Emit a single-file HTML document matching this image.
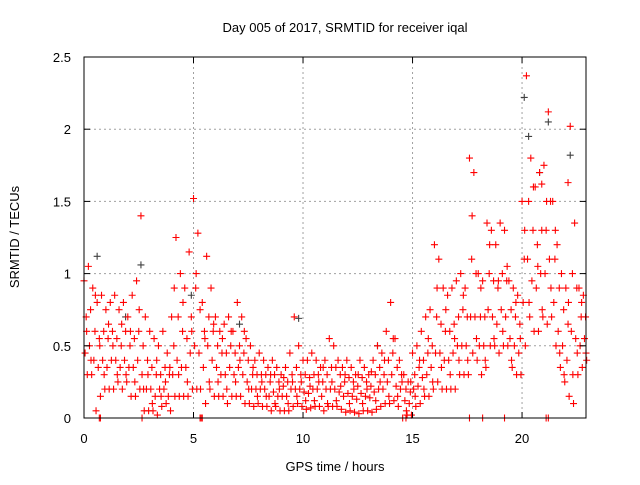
<!DOCTYPE html>
<html><head><meta charset="utf-8"><style>
body{margin:0;background:#fff}
svg text{font-family:"Liberation Sans",sans-serif;font-size:13px;fill:#000}
</style></head><body>
<svg id="chart" width="640" height="480" viewBox="0 0 640 480" xmlns="http://www.w3.org/2000/svg">
<rect width="640" height="480" fill="#fff"/>
<g id="grid"></g>
<g id="gray"></g>
<g id="red"></g>
<g id="axes"></g>
<text x="345" y="32" text-anchor="middle">Day 005 of 2017, SRMTID for receiver iqal</text>
<text x="335" y="471" text-anchor="middle">GPS time / hours</text>
<text transform="translate(19,237) rotate(-90)" text-anchor="middle">SRMTID / TECUs</text>
</svg>
<script>
const xTicks=[0,5,10,15,20];
const yTicks=[0,0.5,1,1.5,2,2.5];
const yTickLabels=["0","0.5","1","1.5","2","2.5"];
const redHi=[0.95,1.05,0.9,0.8,0.85,0.75,0.8,0.85,0.75,0.8,0.7,0.85,0.95,1.4,0.7,0.6,0.55,0.5,0.6,0.45,0.7,1.25,1.0,0.9,1.15,1.52,1.28,0.8,1.12,0.9,0.7,0.6,0.65,0.7,0.6,0.8,0.7,0.55,0.5,0.4,0.45,0.4,0.35,0.4,0.35,0.3,0.35,0.45,0.7,0.5,0.4,0.4,0.45,0.4,0.35,0.4,0.55,0.5,0.4,0.35,0.4,0.35,0.3,0.4,0.35,0.3,0.4,0.5,0.45,0.6,0.8,0.55,0.4,0.3,0.25,0.45,0.5,0.6,0.7,0.75,1.2,1.1,0.9,0.85,0.9,0.95,1.0,0.9,1.8,1.7,1.0,0.95,1.35,1.3,1.2,1.35,1.3,0.95,0.9,0.85,1.5,2.37,1.8,1.6,1.7,1.75,2.12,1.5,1.2,1.0,0.9,2.02,1.35,0.9,0.85];
const redMid1=[0.7,0.75,0.6,0.55,0.6,0.55,0.6,0.55,0.5,0.6,0.5,0.55,0.6,0.5,0.4,0.35,0.3,0.3,0.35,0.3,0.5,0.7,0.6,0.55,0.7,0.9,0.75,0.6,0.7,0.6,0.5,0.45,0.45,0.5,0.45,0.5,0.45,0.4,0.3,0.3,0.3,0.3,0.25,0.3,0.25,0.22,0.25,0.3,0.35,0.3,0.3,0.28,0.3,0.3,0.25,0.3,0.35,0.35,0.3,0.25,0.28,0.25,0.22,0.28,0.25,0.22,0.3,0.35,0.3,0.4,0.45,0.35,0.3,0.2,0.18,0.3,0.35,0.4,0.45,0.5,0.7,0.65,0.6,0.6,0.65,0.7,0.75,0.7,1.1,1.0,0.7,0.7,1.0,0.95,0.9,1.0,0.95,0.75,0.7,0.65,1.1,1.5,1.3,1.2,1.3,1.3,1.5,1.1,0.9,0.75,0.65,1.0,0.9,0.7,0.7];
const redMid2=[0.45,0.5,0.4,0.35,0.4,0.35,0.4,0.4,0.35,0.4,0.35,0.35,0.4,0.3,0.2,0.2,0.15,0.2,0.2,0.15,0.3,0.4,0.35,0.35,0.45,0.5,0.45,0.35,0.5,0.4,0.35,0.3,0.3,0.35,0.3,0.35,0.3,0.25,0.2,0.2,0.2,0.2,0.15,0.18,0.15,0.15,0.15,0.2,0.2,0.2,0.18,0.17,0.2,0.2,0.15,0.2,0.2,0.2,0.18,0.15,0.17,0.15,0.13,0.17,0.15,0.14,0.18,0.2,0.2,0.25,0.3,0.22,0.2,0.12,0.1,0.2,0.22,0.28,0.3,0.35,0.45,0.45,0.4,0.4,0.45,0.5,0.5,0.5,0.7,0.7,0.5,0.5,0.75,0.7,0.65,0.75,0.7,0.55,0.5,0.45,0.8,1.1,0.95,0.9,1.0,1.0,1.1,0.8,0.6,0.5,0.4,0.6,0.55,0.5,0.55];
const redLo=[0.3,0.3,0.05,0.15,0.2,0.2,0.2,0.25,0.2,0.25,0.15,0.15,0.2,0.05,0.05,0.05,0.02,0.08,0.1,0.05,0.15,0.15,0.15,0.15,0.2,0.2,0.0,0.1,0.2,0.15,0.15,0.15,0.1,0.15,0.15,0.15,0.1,0.1,0.08,0.1,0.08,0.08,0.05,0.08,0.05,0.05,0.05,0.08,0.1,0.08,0.06,0.07,0.08,0.08,0.05,0.08,0.08,0.08,0.06,0.04,0.05,0.04,0.03,0.05,0.05,0.04,0.06,0.08,0.1,0.1,0.12,0.08,0.0,0.02,0.02,0.08,0.1,0.15,0.15,0.2,0.25,0.2,0.2,0.2,0.2,0.3,0.3,0.3,0.45,0.4,0.3,0.35,0.5,0.5,0.45,0.5,0.5,0.35,0.3,0.3,0.5,0.7,0.6,0.6,0.7,0.65,0.7,0.5,0.35,0.25,0.15,0.1,0.3,0.35,0.4];
const redX=[0.6,0.4,0.85,0.5,0.3,0.65,0.5,0.3,0.65,0.3,0.6,0.25,0.75,0.2,0.3,0.1,0.4,0.15,0.25,0.35,0.9,0.3,0.8,0.25,0.6,1.0,0.2,0.55,0.25,0.65,0.25,0.55,0.2,0.6,0.25,0.4,0.6,0.2,0.35,0.15,0.25,0.15,0.3,0.1,0.2,0.28,0.1,0.25,0.15,0.25,0.12,0.22,0.12,0.25,0.35,0.1,0.25,0.12,0.22,0.3,0.1,0.2,0.3,0.1,0.2,0.32,0.12,0.25,0.4,0.15,0.55,0.15,0.25,0.05,0.25,0.15,0.4,0.2,0.55,0.25,0.9,0.35,0.75,0.3,0.55,0.4,0.85,0.4,1.4,0.55,0.9,0.4,1.2,0.55,0.95,0.6,1.05,0.4,0.8,0.55,1.3,0.8,1.6,1.05,0.75,1.5,0.9,1.3,0.45,0.3,0.8,0.3,0.45,0.8,0.45];
const extraT=[0.7,0.75,2.65,5.3,5.4,14.7,17.6,18.2,19.2,21.1,21.2,20.9,22.1];
const extraV=[0,0,0,0,0,0,0,0,0,0,0,1.62,1.63];
const grayT=[0.6,2.6,9.8,20.1,20.3,20.8,21.2,22.2,13.4,7.1,4.9,1.9];
const grayV=[1.12,1.06,0.69,2.22,1.95,1.7,2.05,1.82,0.5,0.65,0.85,0.7];
const X0=84,X1=586,Y0=418,Y1=57,XMAX=22.92,YMAX=2.5,STEP=0.2;
const sx=v=>X0+v/XMAX*(X1-X0);
const sy=v=>Y0-v/YMAX*(Y0-Y1);
const NS="http://www.w3.org/2000/svg";
function mk(tag,parent){const e=document.createElementNS(NS,tag);parent.appendChild(e);return e;}
const grid=document.getElementById('grid'),axes=document.getElementById('axes');
xTicks.forEach((t,i)=>{
  if(t>0){const l=mk('line',grid);
  
  
  l.setAttribute('x1',sx(t));l.setAttribute('x2',sx(t));l.setAttribute('y1',Y1);l.setAttribute('y2',Y0);
  l.setAttribute('stroke','#a0a0a0');l.setAttribute('stroke-dasharray','2,3');}
  [[Y0,Y0-6],[Y1,Y1+6]].forEach(p=>{const k=mk('line',axes);
  
  
  k.setAttribute('x1',sx(t));k.setAttribute('x2',sx(t));k.setAttribute('y1',p[0]);k.setAttribute('y2',p[1]);k.setAttribute('stroke','#000');});
  const tx=mk('text',axes);
  
  
  tx.setAttribute('x',sx(t));tx.setAttribute('y',443);tx.setAttribute('text-anchor','middle');tx.textContent=String(t);
});
yTicks.forEach((t,i)=>{
  if(t>0&&t<YMAX){const l=mk('line',grid);
  
  
  l.setAttribute('x1',X0);l.setAttribute('x2',X1);l.setAttribute('y1',sy(t));l.setAttribute('y2',sy(t));
  l.setAttribute('stroke','#a0a0a0');l.setAttribute('stroke-dasharray','2,3');}
  [[X0,X0+6],[X1,X1-6]].forEach(p=>{const k=mk('line',axes);
  
  
  k.setAttribute('x1',p[0]);k.setAttribute('x2',p[1]);k.setAttribute('y1',sy(t));k.setAttribute('y2',sy(t));k.setAttribute('stroke','#000');});
  const tx=mk('text',axes);
  
  
  tx.setAttribute('x',71);tx.setAttribute('y',sy(t)+5);tx.setAttribute('text-anchor','end');tx.textContent=yTickLabels[i];
});
const fr=mk('rect',axes);


fr.setAttribute('x',X0);fr.setAttribute('y',Y1);fr.setAttribute('width',X1-X0);fr.setAttribute('height',Y0-Y1);fr.setAttribute('fill','none');fr.setAttribute('stroke','#000');
function plus(g,t,v,col,name){
  const x=sx(t),y=sy(v);const p=mk('path',g);
  
  
  p.setAttribute('d',`M${x-3.5},${y}h7M${x},${y-3.5}v7`);p.setAttribute('stroke',col);p.setAttribute('stroke-width','1.1');
}
const gG=document.getElementById('gray'),gR=document.getElementById('red');
grayT.forEach((t,i)=>plus(gG,t,grayV[i],'#404040','gray-point'));
const series=[[redHi,0],[redMid1,0.1],[redMid2,0.05],[redLo,0.15],[redX,0.12]];
series.forEach(s=>s[0].forEach((v,i)=>plus(gR,i*STEP+s[1],v,'#ff0000','red-point')));
extraT.forEach((t,i)=>plus(gR,t,extraV[i],'#ff0000','red-point'));
</script>
</body></html>
